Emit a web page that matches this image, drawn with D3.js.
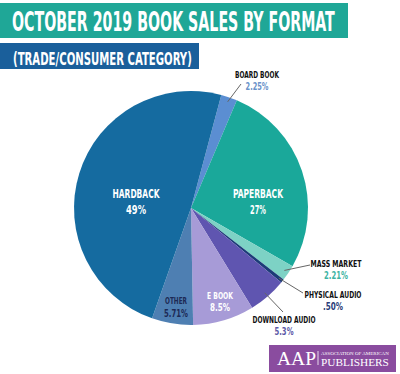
<!DOCTYPE html>
<html><head><meta charset="utf-8">
<script src="https://cdn.jsdelivr.net/npm/d3@7"></script>
<style>body{margin:0;background:#fff}svg{display:block}</style>
</head><body>
<svg id="c" width="400" height="374"></svg>
<script>
const categories = ["Board Book","Paperback","Mass Market","Physical Audio","Download Audio","E Book","Other","Hardback"];
const values = [2.25, 27, 2.21, 0.5, 5.3, 8.5, 5.71, 49];
const valueLabels = ["2.25%","27%","2.21%",".50%","5.3%","8.5%","5.71%","49%"];
const nameLabels = ["BOARD BOOK","PAPERBACK","MASS MARKET","PHYSICAL AUDIO","DOWNLOAD AUDIO","E BOOK","OTHER","HARDBACK"];
const title = "OCTOBER 2019 BOOK SALES BY FORMAT";
const subtitle = "(TRADE/CONSUMER CATEGORY)";

const colors = ["#5b8ed2","#1aa89a","#7dd2c5","#1c3b78","#5f55b0","#a79bd7","#4e7fb2","#156ba0"];
const valueColors = ["#6a92c9","#ffffff","#3db3a3","#2b3d78","#5c5aa8","#ffffff","#1d2a55","#ffffff"];
const nameColors = ["#111","#ffffff","#111","#111","#111","#ffffff","#1d2a55","#ffffff"];

// label layout: center x, name baseline, value baseline, name width, value width, font size, leader end
const layout = {
  "Board Book":    {x:257, ny:78,  vy:90,  nw:44, vw:23, fs:9.5, lead:[241,84]},
  "Paperback":     {x:258, ny:198, vy:214, nw:50, vw:16, fs:12.5, lead:null},
  "Mass Market":   {x:336, ny:267, vy:279, nw:51, vw:24, fs:9.5, lead:[310,265]},
  "Physical Audio":{x:333, ny:298, vy:310, nw:57, vw:20, fs:9.5, lead:[303,293]},
  "Download Audio":{x:284, ny:323, vy:335, nw:63, vw:19, fs:9.5, lead:[283,312]},
  "E Book":        {x:220, ny:299, vy:311, nw:26, vw:20, fs:9.5, lead:null},
  "Other":         {x:176, ny:304, vy:317, nw:22, vw:24, fs:9.5, lead:null},
  "Hardback":      {x:136, ny:198, vy:214, nw:47, vw:20, fs:12.5, lead:null}
};

const svg = d3.select("#c");
const condensed = "'DejaVu Sans Condensed','Liberation Sans Narrow','Roboto Condensed',Roboto,'DejaVu Sans',sans-serif";
const serif = "'Liberation Serif','DejaVu Serif',serif";

// place text scaled horizontally to a target width; anchor: "start" or "middle"
function fitText(str, x, y, width, opts){
  const g = svg.append("g");
  const t = g.append("text").attr("x",0).attr("y",0)
    .attr("fill",opts.fill).attr("font-family",opts.family)
    .attr("font-size",opts.size).attr("font-weight",opts.weight||"normal")
    .attr("text-anchor",opts.anchor||"start").text(str);
  const w = t.node().getComputedTextLength();
  const s = w > 0 ? width / w : 1;
  g.attr("transform",`translate(${x},${y}) scale(${s},1)`);
  return t;
}

// title banners
svg.append("rect").attr("x",0).attr("y",3).attr("width",348).attr("height",35).attr("fill","#1fa797");
fitText(title, 12, 31, 323, {fill:"#fff", family:condensed, size:27, weight:600});
svg.append("rect").attr("x",0).attr("y",43).attr("width",199).attr("height",26).attr("fill","#1a5f9b");
fitText(subtitle, 13, 65, 179, {fill:"#fff", family:condensed, size:17, weight:600});

// pie
const cx = 191, cy = 208, R = 117;
const startA = 15 * Math.PI/180;
const pie = d3.pie().value(d=>d).sort(null).startAngle(startA).endAngle(startA + 2*Math.PI);
const arcs = pie(values);
const arc = d3.arc().innerRadius(0).outerRadius(R);
const g = svg.append("g").attr("transform",`translate(${cx},${cy})`);
g.selectAll("path").data(arcs).join("path")
  .attr("d",arc).attr("fill",(d,i)=>colors[i]);

// leaders
const leadArc = d3.arc().innerRadius(R*0.96).outerRadius(R*0.96);
arcs.forEach((d,i)=>{
  const L = layout[categories[i]];
  if(!L.lead) return;
  const [sx,sy] = leadArc.centroid(d);
  svg.append("line").attr("x1",cx+sx).attr("y1",cy+sy).attr("x2",L.lead[0]).attr("y2",L.lead[1])
    .attr("stroke","#666").attr("stroke-width",1);
});

// labels
categories.forEach((c,i)=>{
  const L = layout[c];
  fitText(nameLabels[i], L.x, L.ny, L.nw, {fill:nameColors[i], family:condensed, size:L.fs, weight:"bold", anchor:"middle"});
  fitText(valueLabels[i], L.x, L.vy, L.vw, {fill:valueColors[i], family:condensed, size:L.fs+0.5, weight:"bold", anchor:"middle"});
});

// AAP logo
svg.append("rect").attr("x",269).attr("y",345).attr("width",127).attr("height",27).attr("fill","#8a4c9f");
fitText("AAP", 277, 365, 39, {fill:"#fff", family:serif, size:19});
svg.append("line").attr("x1",318).attr("y1",351).attr("x2",318).attr("y2",365).attr("stroke","#fff").attr("stroke-width",0.8);
fitText("ASSOCIATION OF AMERICAN", 321, 354.5, 68, {fill:"#fff", family:serif, size:5});
fitText("PUBLISHERS", 321, 365.5, 68, {fill:"#fff", family:serif, size:9.5});
</script>
</body></html>
